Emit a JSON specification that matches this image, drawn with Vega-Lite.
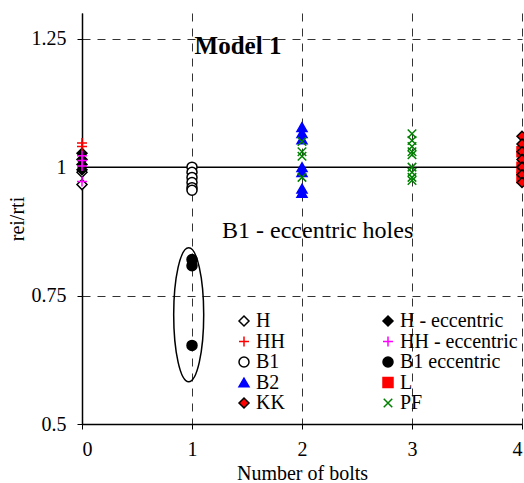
{
  "$schema": "https://vega.github.io/schema/vega-lite/v6.json",
  "width": 440,
  "height": 411,
  "autosize": {"type": "none"},
  "padding": {"left": 82, "top": 13, "right": 2, "bottom": 59},
  "background": "white",
  "config": {
    "view": {"stroke": null},
    "font": "Liberation Serif",
    "axis": {
      "labelFont": "Liberation Serif",
      "labelFontSize": 20,
      "labelColor": "black",
      "titleFont": "Liberation Serif",
      "titleFontSize": 20,
      "titleFontWeight": "normal",
      "titleColor": "black",
      "domainColor": "black",
      "domainWidth": 1.5,
      "tickColor": "black",
      "tickSize": 5,
      "gridColor": "#333333",
      "gridDash": [8, 7],
      "gridWidth": 1
    },
    "legend": {
      "orient": "none",
      "legendX": 152,
      "legendY": 298,
      "columns": 2,
      "columnPadding": 93,
      "rowPadding": 0.5,
      "labelFont": "Liberation Serif",
      "labelFontSize": 20,
      "labelColor": "black",
      "labelOffset": 2,
      "symbolSize": 100,
      "symbolStrokeWidth": 1.5,
      "padding": 0
    }
  },
  "layer": [
    {
      "data": {"values": [{"y": 1}]},
      "mark": {"type": "rule", "color": "black", "strokeWidth": 1.5},
      "encoding": {
        "y": {"field": "y", "type": "quantitative", "scale": {"domain": [0.5, 1.3], "nice": false, "zero": false},
          "axis": {"values": [0.5, 0.75, 1, 1.25], "format": ".3~f", "title": "rei/rti", "grid": true, "labelPadding": 11, "titlePadding": 4}}
      }
    },
    {
      "data": {"values": [
        {"s": "H", "x": 0, "y": 0.966},
        {"s": "H", "x": 0, "y": 0.99},
        {"s": "H - eccentric", "x": 0, "y": 1.027},
        {"s": "H - eccentric", "x": 0, "y": 1.015},
        {"s": "H - eccentric", "x": 0, "y": 1.005},
        {"s": "H - eccentric", "x": 0, "y": 0.995},
        {"s": "HH", "x": 0, "y": 1.047},
        {"s": "HH", "x": 0, "y": 1.04},
        {"s": "HH - eccentric", "x": 0, "y": 1.022},
        {"s": "HH - eccentric", "x": 0, "y": 1.013},
        {"s": "HH - eccentric", "x": 0, "y": 1.002},
        {"s": "HH - eccentric", "x": 0, "y": 0.972},
        {"s": "B1", "x": 1, "y": 1.0},
        {"s": "B1", "x": 1, "y": 0.99},
        {"s": "B1", "x": 1, "y": 0.98},
        {"s": "B1", "x": 1, "y": 0.97},
        {"s": "B1", "x": 1, "y": 0.96},
        {"s": "B1", "x": 1, "y": 0.955},
        {"s": "B1 eccentric", "x": 1, "y": 0.82},
        {"s": "B1 eccentric", "x": 1, "y": 0.808},
        {"s": "B1 eccentric", "x": 1, "y": 0.653},
        {"s": "B2", "x": 2, "y": 1.078},
        {"s": "B2", "x": 2, "y": 1.066},
        {"s": "B2", "x": 2, "y": 1.054},
        {"s": "B2", "x": 2, "y": 1.0},
        {"s": "B2", "x": 2, "y": 0.99},
        {"s": "B2", "x": 2, "y": 0.958},
        {"s": "B2", "x": 2, "y": 0.95},
        {"s": "PF", "x": 2, "y": 1.05},
        {"s": "PF", "x": 2, "y": 1.03},
        {"s": "PF", "x": 2, "y": 1.021},
        {"s": "PF", "x": 2, "y": 0.98},
        {"s": "PF", "x": 3, "y": 1.065},
        {"s": "PF", "x": 3, "y": 1.052},
        {"s": "PF", "x": 3, "y": 1.04},
        {"s": "PF", "x": 3, "y": 1.03},
        {"s": "PF", "x": 3, "y": 1.024},
        {"s": "PF", "x": 3, "y": 1.0},
        {"s": "PF", "x": 3, "y": 0.99},
        {"s": "PF", "x": 3, "y": 0.98},
        {"s": "PF", "x": 3, "y": 0.974},
        {"s": "L", "x": 4, "y": 1.03},
        {"s": "L", "x": 4, "y": 1.0},
        {"s": "L", "x": 4, "y": 0.98},
        {"s": "KK", "x": 4, "y": 1.06},
        {"s": "KK", "x": 4, "y": 1.045},
        {"s": "KK", "x": 4, "y": 1.03},
        {"s": "KK", "x": 4, "y": 1.015},
        {"s": "KK", "x": 4, "y": 1.0},
        {"s": "KK", "x": 4, "y": 0.985},
        {"s": "KK", "x": 4, "y": 0.97}
      ]},
      "mark": {"type": "point", "size": 100, "strokeWidth": 1.5, "opacity": 1},
      "encoding": {
        "x": {"field": "x", "type": "quantitative", "scale": {"domain": [0, 4], "nice": false, "zero": false},
          "axis": {"values": [0, 1, 2, 3, 4], "format": "d", "title": "Number of bolts", "grid": true, "labelPadding": 10, "titlePadding": 4}},
        "y": {"field": "y", "type": "quantitative"},
        "shape": {"field": "s", "type": "nominal", "legend": {"title": null},
          "scale": {
            "domain": ["H", "HH", "B1", "B2", "KK", "H - eccentric", "HH - eccentric", "B1 eccentric", "L", "PF"],
            "range": ["diamond", "M -1 0 L 1 0 M 0 -1 L 0 1", "circle", "triangle-up", "diamond", "diamond", "M -1 0 L 1 0 M 0 -1 L 0 1", "circle", "square", "M -0.85 -0.85 L 0.85 0.85 M -0.85 0.85 L 0.85 -0.85"]}},
        "fill": {"field": "s", "type": "nominal", "legend": {"title": null},
          "scale": {
            "domain": ["H", "HH", "B1", "B2", "KK", "H - eccentric", "HH - eccentric", "B1 eccentric", "L", "PF"],
            "range": ["white", "transparent", "white", "#0000ff", "#ff0000", "black", "transparent", "black", "#ff0000", "transparent"]}},
        "stroke": {"field": "s", "type": "nominal", "legend": {"title": null},
          "scale": {
            "domain": ["H", "HH", "B1", "B2", "KK", "H - eccentric", "HH - eccentric", "B1 eccentric", "L", "PF"],
            "range": ["black", "#ff0000", "black", "#0000ff", "black", "black", "#ff00ff", "black", "#ff0000", "#008000"]}}
      }
    },
    {
      "data": {"values": [{"x": 0.97, "y": 0.7125}]},
      "mark": {"type": "point", "shape": "M 0 -1 A 0.224 1 0 1 1 0 1 A 0.224 1 0 1 1 0 -1 Z", "size": 17956, "fill": "transparent", "stroke": "black", "strokeWidth": 1.5, "opacity": 1},
      "encoding": {
        "x": {"field": "x", "type": "quantitative"},
        "y": {"field": "y", "type": "quantitative"}
      }
    },
    {
      "data": {"values": [{"label": "Model 1", "x": 1.418, "y": 1.235}]},
      "mark": {"type": "text", "font": "Liberation Serif", "fontWeight": "bold", "fontSize": 25, "align": "center", "baseline": "middle", "color": "black"},
      "encoding": {
        "x": {"field": "x", "type": "quantitative"},
        "y": {"field": "y", "type": "quantitative"},
        "text": {"field": "label"}
      }
    },
    {
      "data": {"values": [{"label": "B1 - eccentric holes", "x": 1.273, "y": 0.876}]},
      "mark": {"type": "text", "font": "Liberation Serif", "fontSize": 24, "align": "left", "baseline": "middle", "color": "black"},
      "encoding": {
        "x": {"field": "x", "type": "quantitative"},
        "y": {"field": "y", "type": "quantitative"},
        "text": {"field": "label"}
      }
    }
  ]
}
